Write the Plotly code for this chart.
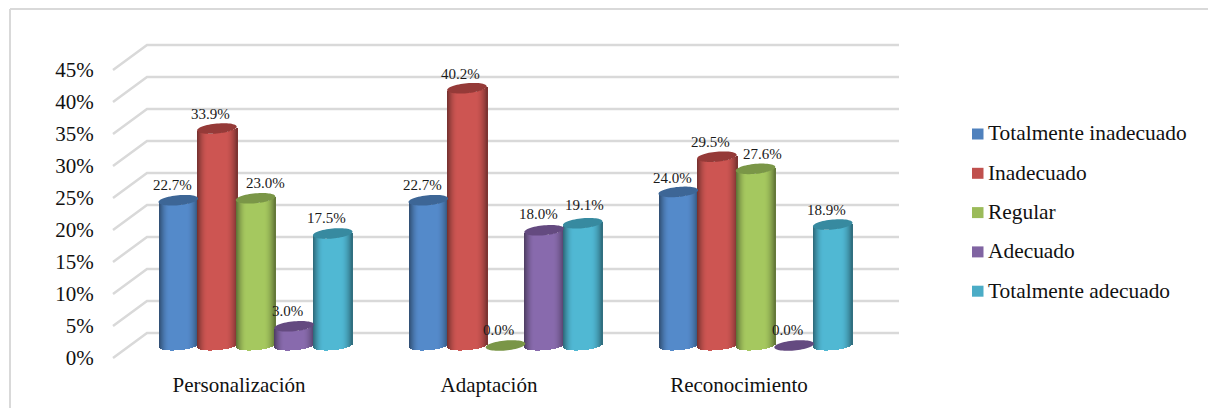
import numpy as np
import plotly.graph_objects as go

# Chart data
categories = ["Personalización", "Adaptación", "Reconocimiento"]
series_names = ["Totalmente inadecuado", "Inadecuado", "Regular", "Adecuado", "Totalmente adecuado"]
totalmente_inadecuado = [22.7, 22.7, 24.0]
inadecuado = [33.9, 40.2, 29.5]
regular = [23.0, 0.0, 27.6]
adecuado = [3.0, 18.0, 0.0]
totalmente_adecuado = [17.5, 19.1, 18.9]
tick_values = [0, 5, 10, 15, 20, 25, 30, 35, 40, 45]

series_values = [totalmente_inadecuado, inadecuado, regular, adecuado, totalmente_adecuado]

# Styling
face_colors = ["#4F81BD", "#C0504D", "#9BBB59", "#8064A2", "#4BACC6"]
cap_colors = ["#3D6696", "#953A38", "#7A9647", "#644A80", "#378AA0"]
label_dx = [[-5.5, -5.5, -5.5], [-6.5, -6.5, -6], [10, -7.5, 7], [-7, -6, -7], [-6.5, 1.5, -6.5]]
label_dy = [[15, 15, 14], [15, 14, 15], [15, 16, 15], [15, 16, 16], [16, 18, 15]]
FONT = "Liberation Serif"
GRID = "#D9D9D9"
W, H = 1208, 408

# Pixel geometry of the three planes of the pseudo-3D chart
PX_PER_UNIT = 6.4
PX_PER_CAT = 250.0
FRONT_X0, FRONT_Y0 = 113.0, 358.0
BACK_X0, BACK_Y0 = 147.0, 333.0
MID_X0, MID_Y0 = (FRONT_X0 + BACK_X0) / 2 + 0.5, (FRONT_Y0 + BACK_Y0) / 2
PAD = 6.0   # value units kept below zero inside each plot area
TOP = 47.0
LEFT = 0.2  # category units kept left of the first group
RIGHT = 0.02

def shared_axes(x0, y0):
    xa = dict(domain=[(x0 - LEFT * PX_PER_CAT) / W, (x0 + (3 + RIGHT) * PX_PER_CAT) / W],
              range=[-LEFT, 3 + RIGHT], showgrid=False, zeroline=False, showline=False)
    ya = dict(domain=[(H - y0 - PAD * PX_PER_UNIT) / H, (H - y0 + TOP * PX_PER_UNIT) / H],
              range=[-PAD, TOP], showgrid=False, zeroline=False, showline=False)
    return xa, ya

fig = go.Figure()

# Back wall: horizontal grid lines joined to the front edge by diagonals
depth_x = (BACK_X0 - FRONT_X0) / PX_PER_CAT
depth_y = (FRONT_Y0 - BACK_Y0) / PX_PER_UNIT
gx, gy = [], []
for t in tick_values:
    gx += [-depth_x, 0, 3 + RIGHT * 0.4, None]
    gy += [t - depth_y, t, t, None]
fig.add_trace(go.Scatter(x=gx, y=gy, mode="lines", line=dict(color=GRID, width=2.5),
                         hoverinfo="skip", showlegend=False, xaxis="x", yaxis="y"))

# Cylinder geometry
PITCH = 38.6 / PX_PER_CAT
HALF = 19.8
RY = 5.0
TILT = 1.8
N_BANDS = 39
edges = np.linspace(-1, 1, N_BANDS + 1)

def shade(u):
    # Brightness across the cylinder: dark rims, lit just around the middle
    left = np.clip((u + 1) / 0.55, 0, 1)
    right = np.clip((1 - u) / 0.6, 0, 1)
    return 0.6 + 0.47 * np.sin(left * np.pi / 2) * np.sin(right * np.pi / 2) ** 0.8

def scaled(hex_color, f):
    rgb = [int(hex_color[i:i + 2], 16) for i in (1, 3, 5)]
    return "rgb({},{},{})".format(*[int(min(255, c * f)) for c in rgb])

group_centres = [i + 0.5 for i in range(len(categories))]

for s, values in enumerate(series_values):
    centres = [c + (s - 2) * PITCH for c in group_centres]
    # A zero value has no body, only the flat disc drawn below
    heights = values

    # Body: narrow side-by-side bars, each rising by the series value
    for lo, hi in zip(edges[:-1], edges[1:]):
        u = (lo + hi) / 2
        lower_edge = (-RY * np.sqrt(1 - u * u) + TILT * u + 0.6) / PX_PER_UNIT
        fig.add_trace(go.Bar(
            x=centres, y=heights, base=[lower_edge] * len(values),
            offset=lo * HALF / PX_PER_CAT, width=(hi - lo) * HALF / PX_PER_CAT,
            marker=dict(color=scaled(face_colors[s], shade(u)), line=dict(width=0)),
            hoverinfo="skip", showlegend=False, xaxis="x2", yaxis="y2"))

    # Top face of each cylinder
    theta = np.linspace(0, 2 * np.pi, 61)
    cx, cy = [], []
    for c, v in zip(centres, values):
        cx += list(c + np.cos(theta) * HALF / PX_PER_CAT) + [None]
        cy += list(v + (RY * np.sin(theta) + TILT * np.cos(theta)) / PX_PER_UNIT) + [None]
    fig.add_trace(go.Scatter(x=cx, y=cy, mode="lines", fill="toself", fillcolor=cap_colors[s],
                             line=dict(width=0, color=cap_colors[s], simplify=False), hoverinfo="skip",
                             showlegend=False, xaxis="x2", yaxis="y2"))

# Value labels above the cylinders
annotations = []
for s, values in enumerate(series_values):
    for i, v in enumerate(values):
        annotations.append(dict(
            x=group_centres[i] + (s - 2) * PITCH, y=v, xref="x2", yref="y2",
            text=f"{v:.1f}%", showarrow=False, xanchor="center", yanchor="middle",
            xshift=label_dx[s][i], yshift=label_dy[s][i],
            font=dict(family=FONT, size=15, color="#1A1A1A")))

# Legend built from swatches and text so the row spacing stays fixed
shapes = [
    dict(type="line", xref="paper", yref="paper", x0=10 / W, x1=1, y0=1 - 9 / H, y1=1 - 9 / H,
         line=dict(color=GRID, width=2)),
    dict(type="line", xref="paper", yref="paper", x0=10 / W, x1=10 / W, y0=0, y1=1 - 9 / H,
         line=dict(color=GRID, width=2)),
]
for s, name in enumerate(series_names):
    yc = 134 + s * 39.3
    shapes.append(dict(type="rect", xref="paper", yref="paper", x0=972 / W, x1=983.5 / W,
                       y0=1 - (yc + 5.5) / H, y1=1 - (yc - 5.5) / H,
                       fillcolor=face_colors[s], line=dict(width=0)))
    annotations.append(dict(x=986 / W, y=1 - (yc - 0.5) / H, xref="paper", yref="paper", text=name,
                            showarrow=False, xanchor="left", yanchor="middle",
                            font=dict(family=FONT, size=21.4, color="#111111")))

# Category names and percentage ticks sit on the front plane
fig.add_trace(go.Scatter(x=[], y=[], hoverinfo="skip", showlegend=False, xaxis="x3", yaxis="y3"))

back_x, back_y = shared_axes(BACK_X0, BACK_Y0)
mid_x, mid_y = shared_axes(MID_X0, MID_Y0)
front_x, front_y = shared_axes(FRONT_X0, FRONT_Y0)
back_x.update(visible=False, anchor="y")
back_y.update(visible=False, anchor="x")
mid_x.update(visible=False, anchor="y2")
mid_y.update(visible=False, anchor="x2")
front_x.update(anchor="free", position=(H - FRONT_Y0) / H, tickmode="array", tickvals=[c + 0.004 for c in group_centres],
               ticktext=categories, ticks="outside", ticklen=8, tickcolor="rgba(0,0,0,0)",
               tickfont=dict(family=FONT, size=21, color="#111111"))
front_y.update(anchor="free", position=FRONT_X0 / W, tickmode="array", tickvals=tick_values,
               ticktext=[f"{t}%" for t in tick_values], ticks="outside", ticklen=15,
               tickcolor="rgba(0,0,0,0)", tickfont=dict(family=FONT, size=21, color="#111111"))

fig.update_layout(
    width=W, height=H, autosize=False, margin=dict(l=0, r=0, t=0, b=0),
    paper_bgcolor="white", plot_bgcolor="rgba(0,0,0,0)", barmode="overlay", bargap=0,
    showlegend=False, annotations=annotations, shapes=shapes,
    xaxis=back_x, yaxis=back_y, xaxis2=mid_x, yaxis2=mid_y, xaxis3=front_x, yaxis3=front_y,
)

fig.write_html("out.html", config=dict(displayModeBar=False))
